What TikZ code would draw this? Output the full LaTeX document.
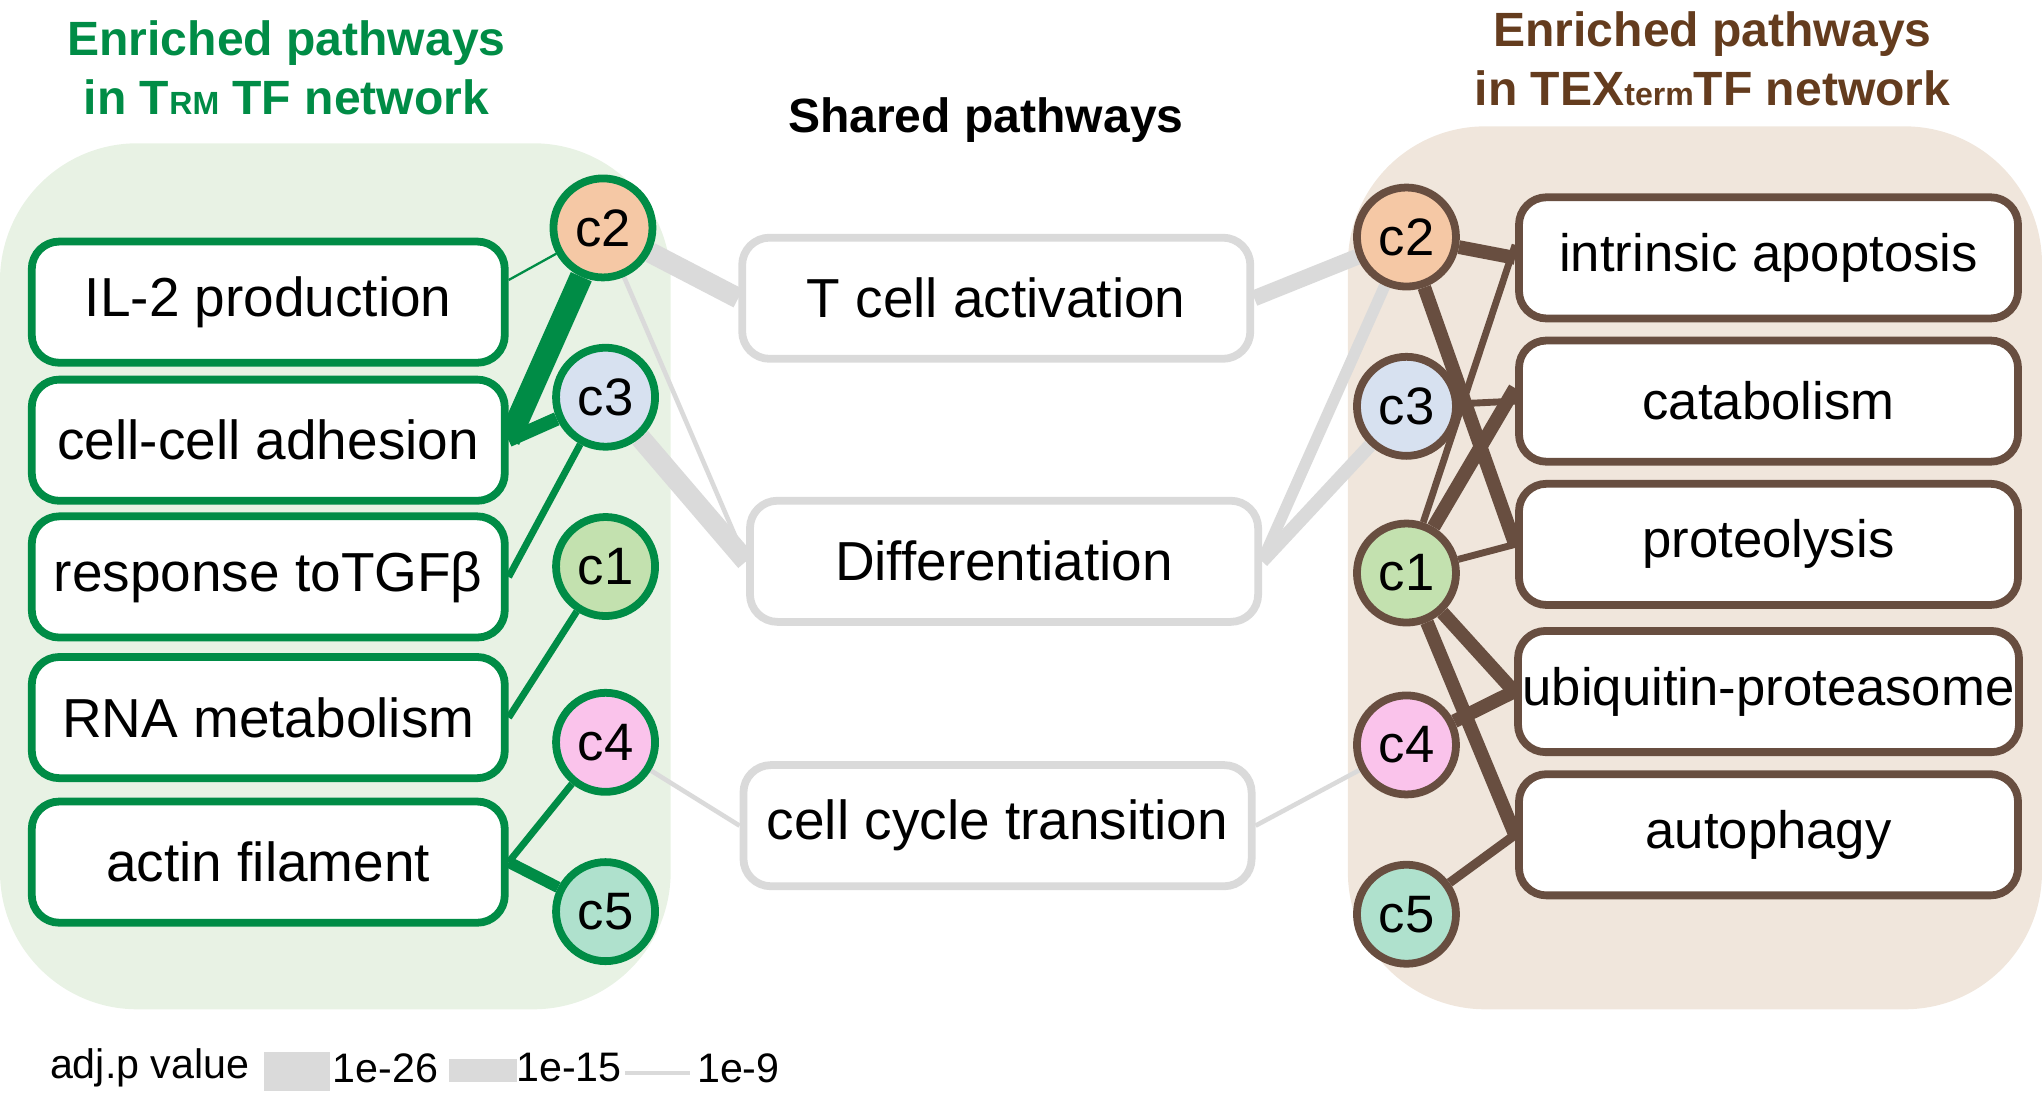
\documentclass[tikz,border=0pt]{standalone}
\usepackage{fontspec}
\setmainfont{Liberation Sans}
\usetikzlibrary{positioning}
\definecolor{trmgreen}{RGB}{0,140,70}
\definecolor{texbrown}{RGB}{104,78,64}
\definecolor{titlebrown}{RGB}{100,60,30}
\definecolor{sharedgray}{RGB}{218,218,218}
\definecolor{trmback}{RGB}{232,242,228}
\definecolor{texback}{RGB}{240,230,220}
\definecolor{fcii}{RGB}{245,200,165}
\definecolor{fciii}{RGB}{215,225,240}
\definecolor{fci}{RGB}{195,225,175}
\definecolor{fciv}{RGB}{250,195,235}
\definecolor{fcv}{RGB}{175,225,205}
\pgfdeclarelayer{back}
\pgfdeclarelayer{background}
\pgfsetlayers{back,background,main}
\tikzset{
  path box/.style={shape=rectangle, draw, fill=white, rounded corners=6pt,
    line width=1.7pt, minimum width=3.63cm, minimum height=0.93cm, inner xsep=1pt,
    font=\fontsize{12}{14}\selectfont},
  trm box/.style={path box, draw=trmgreen},
  tex box/.style={path box, draw=texbrown, minimum width=3.83cm, font=\fontsize{11.5}{14}\selectfont},
  shared box/.style={path box, draw=sharedgray, minimum width=3.9cm},
  clu/.style={shape=circle, draw, line width=1.7pt, minimum size=0.76cm,
    inner sep=0pt, font=\fontsize{11.5}{14}\selectfont},
  trm clu/.style={clu, draw=trmgreen},
  tex clu/.style={clu, draw=texbrown},
  title/.style={font=\fontsize{10.5}{13}\selectfont\bfseries, align=center},
  legend/.style={font=\fontsize{9}{11}\selectfont}}

\begin{document}
\begin{tikzpicture}[x=0.01cm, y=-0.01cm]
    \useasboundingbox (0,0) rectangle (1568,847);

    % panels
    \begin{pgfonlayer}{back}
    \fill[trmback, rounded corners=30pt] (0,110) rectangle (515,775);
    \fill[texback, rounded corners=30pt] (1035,97) rectangle (1568,775);
    \end{pgfonlayer}

    % titles
    \node[title, text=trmgreen] (trmtitle) at (220,52) {Enriched pathways\\in T{\scriptsize RM} TF network};
    \node[title, text=titlebrown] (textitle) at (1315,45) {Enriched pathways\\in TEX{\scriptsize term}TF network};
    \node[title] (sharedtitle) at (757,92) {Shared pathways};

    % TRM pathways
    \node[trm box] (il2) at (206,232) {IL-2 production};
    \node[trm box] (adh) at (206,338) {cell-cell adhesion};
    \node[trm box] (tgf) at (206,443) {response toTGFβ};
    \node[trm box] (rna) at (206,551) {RNA metabolism};
    \node[trm box] (act) at (206,662) {actin filament};

    \node[trm clu, fill=fcii] (lc2) at (463,175) {c2};
    \node[trm clu, fill=fciii] (lc3) at (465,305) {c3};
    \node[trm clu, fill=fci] (lc1) at (465,435) {c1};
    \node[trm clu, fill=fciv] (lc4) at (465,570) {c4};
    \node[trm clu, fill=fcv] (lc5) at (465,700) {c5};

    % shared pathways
    \node[shared box] (tact) at (765,229) {T cell activation};
    \node[shared box] (diff) at (771,431) {Differentiation};
    \node[shared box] (cyc) at (766,634) {cell cycle transition};

    % TEXterm pathways
    \node[tex clu, fill=fcii] (rc2) at (1080,182) {c2};
    \node[tex clu, fill=fciii] (rc3) at (1080,312) {c3};
    \node[tex clu, fill=fci] (rc1) at (1080,440) {c1};
    \node[tex clu, fill=fciv] (rc4) at (1080,572) {c4};
    \node[tex clu, fill=fcv] (rc5) at (1080,702) {c5};

    \node[tex box] (apo) at (1358,198) {intrinsic apoptosis};
    \node[tex box] (cat) at (1358,308) {catabolism};
    \node[tex box] (pro) at (1358,418) {proteolysis};
    \node[tex box] (ubi) at (1358,531) {ubiquitin-proteasome};
    \node[tex box] (aut) at (1358,641) {autophagy};

    \begin{pgfonlayer}{background}
    \path[draw, trmgreen]
    (lc2) edge[line width=0.5pt] ([yshift=0.17cm]il2.east)
    (lc2) edge[line width=5pt] (adh.east)
    (lc3) edge[line width=3pt] (adh.east)
    (lc3) edge[line width=1.5pt] (tgf.east)
    (lc1) edge[line width=1.5pt] (rna.east)
    (lc4) edge[line width=1.5pt] (act.east)
    (lc5) edge[line width=2.5pt] (act.east);
    \path[draw, sharedgray]
    (lc2) edge[line width=4.5pt] (tact.west)
    (lc2) edge[line width=1pt] (diff.west)
    (lc3) edge[line width=4.5pt] (diff.west)
    (lc4) edge[line width=1pt] (cyc.west)
    (tact.east) edge[line width=3.5pt] (rc2)
    (diff.east) edge[line width=2.5pt] (rc2)
    (diff.east) edge[line width=3pt] (rc3)
    (cyc.east) edge[line width=1pt] (rc4);
    \path[draw, texbrown]
    (rc2) edge[line width=3pt] (apo.west)
    (rc2) edge[line width=3pt] (pro.west)
    (rc3) edge[line width=1.5pt] (cat.west)
    (rc1) edge[line width=1.5pt] ([yshift=0.1cm]apo.west)
    (rc1) edge[line width=3pt] ([yshift=0.1cm]cat.west)
    (rc1) edge[line width=1.5pt] (pro.west)
    (rc1) edge[line width=3pt] (ubi.west)
    (rc1) edge[line width=3pt] (aut.west)
    (rc4) edge[line width=3pt] (ubi.west)
    (rc5) edge[line width=2pt] (aut.west);
    \end{pgfonlayer}

    % legend
    \node[legend] (leg) at (115,820) {adj.p value};
    \node[fill=sharedgray, minimum width=0.5cm, minimum height=0.3cm, inner sep=0pt] (big) at (228,823) {};
    \node[legend] (lbig) at (296,820) {1e-26};
    \node[fill=sharedgray, minimum width=0.52cm, minimum height=0.17cm, inner sep=0pt] (mid) at (371,822) {};
    \node[legend] (lmid) at (437,820) {1e-15};
    \coordinate (sa) at (480,824);
    \coordinate (sb) at (530,824);
    \draw[sharedgray, line width=1pt] (sa) -- (sb);
    \node[legend] (lsmall) at (567,820) {1e-9};
\end{tikzpicture}
\end{document}
